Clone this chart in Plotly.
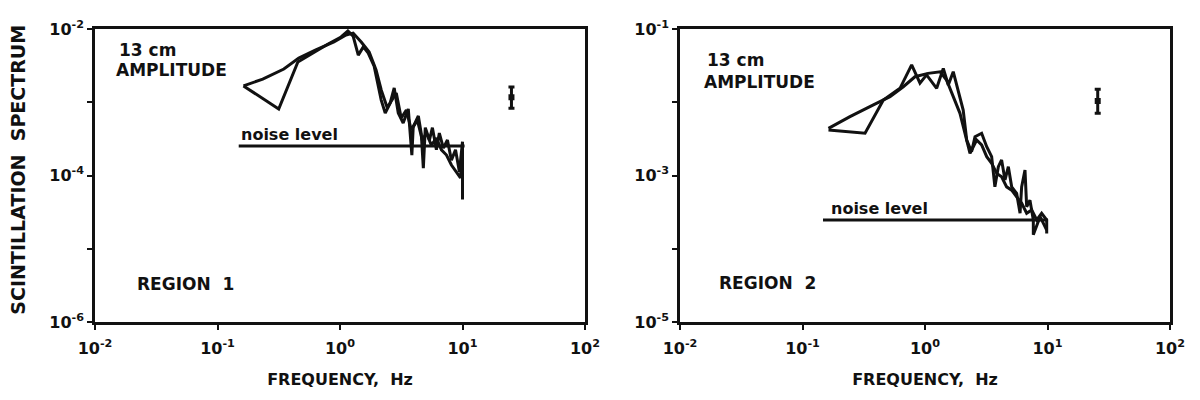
import math
import plotly.graph_objects as go

# ---------------- data ----------------
# Region 1, two overlaid spectra
l_a_freq = [0.163, 0.316, 0.453, 0.578, 0.80, 1.02, 1.16, 1.28, 1.41, 1.55, 1.70, 1.90,
            2.17, 2.34, 2.57, 2.77, 2.99, 3.28, 3.61, 3.86, 3.96, 4.36, 4.61, 4.79, 4.97,
            5.37, 5.68, 6.12, 6.47, 6.98, 7.53, 8.12, 8.77, 9.44, 10.0, 10.0]
l_a_spec = [1.67e-3, 8.1e-4, 3.55e-3, 4.56e-3, 6.24e-3, 7.78e-3, 9.4e-3, 8.0e-3, 4.4e-3,
            5.7e-3, 4.7e-3, 3.1e-3, 1.07e-3, 7.1e-4, 9.8e-4, 1.57e-3, 7.1e-4, 5.2e-4,
            8.1e-4, 1.9e-4, 4.6e-4, 6.5e-4, 3.7e-4, 1.26e-4, 4.5e-4, 3.05e-4, 4.5e-4,
            2.24e-4, 3.8e-4, 2.37e-4, 3.05e-4, 1.62e-4, 2.24e-4, 1.12e-4, 2.9e-4, 4.7e-5]

l_b_freq = [0.163, 0.234, 0.348, 0.461, 0.635, 0.893, 1.12, 1.28, 1.49, 1.73, 1.97, 2.17,
            2.43, 2.67, 2.88, 3.16, 3.48, 3.82, 4.28, 4.70, 5.07, 5.57, 6.12, 6.73, 7.40,
            8.12, 8.93, 9.63, 10.0]
l_b_spec = [1.67e-3, 2.07e-3, 2.84e-3, 4.0e-3, 5.2e-3, 6.65e-3, 8.3e-3, 8.8e-3, 6.65e-3,
            4.85e-3, 2.75e-3, 1.47e-3, 8.4e-4, 1.07e-3, 1.34e-3, 6.1e-4, 7.8e-4, 4.2e-4,
            5.7e-4, 3.05e-4, 3.8e-4, 2.6e-4, 3.24e-4, 2.24e-4, 1.9e-4, 1.39e-4, 1.12e-4,
            9.3e-5, 2.24e-4]

# Region 2, two overlaid spectra
r_a_freq = [0.163, 0.324, 0.457, 0.625, 0.778, 0.91, 1.03, 1.245, 1.41, 1.55, 1.70, 1.87,
            2.05, 2.19, 2.40, 2.56, 2.90, 3.19, 3.50, 3.72, 3.97, 4.22, 4.50, 4.79, 5.10,
            5.60, 5.97, 6.15, 6.55, 6.76, 7.19, 7.66, 7.66, 8.70, 9.85]
r_a_spec = [4.18e-3, 3.77e-3, 1.07e-2, 1.55e-2, 3.23e-2, 1.82e-2, 2.36e-2, 1.55e-2, 2.9e-2,
            1.72e-2, 2.61e-2, 1.47e-2, 7.8e-3, 3.05e-3, 2.11e-3, 3.39e-3, 3.77e-3, 2.47e-3,
            1.81e-3, 7.0e-4, 1.32e-3, 1.63e-3, 8.7e-4, 1.32e-3, 7.0e-4, 5.7e-4, 3.05e-4,
            7.0e-4, 1.19e-3, 3.75e-4, 4.6e-4, 2.47e-4, 1.55e-4, 2.74e-4, 1.8e-4]

r_b_freq = [0.163, 0.244, 0.379, 0.518, 0.665, 0.828, 1.06, 1.33, 1.50, 1.70, 1.93, 2.12,
            2.33, 2.64, 2.90, 3.19, 3.50, 3.85, 4.22, 4.64, 5.10, 5.60, 6.15, 6.76, 7.43,
            8.17, 8.96, 9.85, 9.85]
r_b_spec = [4.4e-3, 6.35e-3, 9.2e-3, 1.19e-2, 1.63e-2, 2.23e-2, 2.48e-2, 2.61e-2, 2.01e-2,
            1.19e-2, 7.06e-3, 3.77e-3, 2.01e-3, 3.05e-3, 2.61e-3, 1.81e-3, 1.47e-3, 1.07e-3,
            9.6e-4, 7.0e-4, 6.3e-4, 5.1e-4, 4.2e-4, 3.05e-4, 3.38e-4, 2.47e-4, 3.05e-4,
            2.47e-4, 1.62e-4]

# noise levels
noise_l_freq = [0.149, 10.4]
noise_l_spec = [2.53e-4, 2.53e-4]
noise_r_freq = [0.147, 10.1]
noise_r_spec = [2.47e-4, 2.47e-4]

# error bars
err_l_freq, err_l_spec, err_l_up, err_l_dn = [25.1], [1.17e-3], [0.45e-3], [0.34e-3]
err_r_freq, err_r_spec, err_r_up, err_r_dn = [25.7], [1.04e-2], [0.47e-2], [0.33e-2]

# axis ticks
x_tickvals = [0.01, 0.1, 1, 10, 100]
x_ticktext = ["10<sup>-2</sup>", "10<sup>-1</sup>", "10<sup>0</sup>", "10<sup>1</sup>", "10<sup>2</sup>"]
yl_tickvals = [1e-6, 1e-5, 1e-4, 1e-3, 1e-2]
yl_ticktext = ["10<sup>-6</sup>", "", "10<sup>-4</sup>", "", "10<sup>-2</sup>"]
yr_tickvals = [1e-5, 1e-4, 1e-3, 1e-2, 1e-1]
yr_ticktext = ["10<sup>-5</sup>", "", "10<sup>-3</sup>", "", "10<sup>-1</sup>"]

# ---------------- figure ----------------
FONT = "DejaVu Sans"
BLACK = "#111111"
LW = 3

fig = go.Figure()

def add_line(x, y, xa, ya, width=LW):
    fig.add_trace(go.Scatter(x=x, y=y, xaxis=xa, yaxis=ya, mode="lines",
                             line=dict(color=BLACK, width=width), showlegend=False,
                             hoverinfo="skip"))

add_line(l_a_freq, l_a_spec, "x", "y")
add_line(l_b_freq, l_b_spec, "x", "y")
add_line(noise_l_freq, noise_l_spec, "x", "y", 3)
add_line(r_a_freq, r_a_spec, "x2", "y2")
add_line(r_b_freq, r_b_spec, "x2", "y2")
add_line(noise_r_freq, noise_r_spec, "x2", "y2", 3)

for fx, fy, up, dn, xa, ya in [(err_l_freq, err_l_spec, err_l_up, err_l_dn, "x", "y"),
                               (err_r_freq, err_r_spec, err_r_up, err_r_dn, "x2", "y2")]:
    fig.add_trace(go.Scatter(x=fx, y=fy, xaxis=xa, yaxis=ya, mode="markers",
                             marker=dict(color=BLACK, size=6, symbol="square"),
                             error_y=dict(type="data", array=up, arrayminus=dn, symmetric=False,
                                          color=BLACK, thickness=3, width=3),
                             showlegend=False, hoverinfo="skip"))

tickfont = dict(family=FONT, size=16, color=BLACK, weight="bold")
common_x = dict(type="log", range=[-2, 2], tickvals=x_tickvals, ticktext=x_ticktext,
                showline=True, linewidth=2.5, linecolor=BLACK, mirror=True,
                ticks="outside", ticklen=5, tickwidth=2, tickcolor=BLACK, ticklabelstandoff=5,
                showgrid=False, zeroline=False, tickfont=tickfont, automargin=False,
                title=dict(text="FREQUENCY,  Hz", standoff=17,
                           font=dict(family=FONT, size=16, color=BLACK, weight="bold")))
common_y = dict(type="log", showline=True, linewidth=2.5, linecolor=BLACK, mirror=True,
                ticks="outside", ticklen=5, tickwidth=2, tickcolor=BLACK, automargin=False,
                showgrid=False, zeroline=False, tickfont=tickfont, domain=[0, 1])

# page has an 8px body margin, so figure coords = viewport coords - 8
L0, L1 = 87 / 1200, 577 / 1200
R0, R1 = 672 / 1200, 1162 / 1200

inner = dict(type="log", showticklabels=False, ticks="inside", ticklen=5, automargin=False,
             tickwidth=2, tickcolor=BLACK, showgrid=False, zeroline=False, showline=False)

fig.update_layout(
    width=1200, height=400,
    margin=dict(l=0, r=0, t=21, b=86),
    paper_bgcolor="white", plot_bgcolor="white",
    font=dict(family=FONT, color=BLACK),
    xaxis=dict(common_x, domain=[L0, L1], anchor="y"),
    yaxis=dict(common_y, range=[-6, -2], tickvals=yl_tickvals, ticktext=yl_ticktext, anchor="x"),
    xaxis2=dict(common_x, domain=[R0, R1], anchor="y2"),
    yaxis2=dict(common_y, range=[-5, -1], tickvals=yr_tickvals, ticktext=yr_ticktext, anchor="x2"),
    # inner halves of the cross-shaped ticks
    xaxis3=dict(inner, range=[-2, 2], domain=[L0, L1], anchor="y3", overlaying="x", tickvals=x_tickvals),
    yaxis3=dict(inner, range=[-6, -2], domain=[0, 1], anchor="x3", overlaying="y", tickvals=yl_tickvals),
    xaxis4=dict(inner, range=[-2, 2], domain=[R0, R1], anchor="y4", overlaying="x2", tickvals=x_tickvals),
    yaxis4=dict(inner, range=[-5, -1], domain=[0, 1], anchor="x4", overlaying="y2", tickvals=yr_tickvals),
)

lab = dict(family=FONT, size=17, color=BLACK, weight="bold")
ann = [
    dict(text="13 cm", xref="x domain", yref="y domain", x=0.045, y=0.930, xanchor="left", yanchor="middle", font=lab, showarrow=False),
    dict(text="AMPLITUDE", xref="x domain", yref="y domain", x=0.038, y=0.860, xanchor="left", yanchor="middle", font=lab, showarrow=False),
    dict(text="REGION  1", xref="x domain", yref="y domain", x=0.082, y=0.130, xanchor="left", yanchor="middle", font=lab, showarrow=False),
    dict(text="13 cm", xref="x2 domain", yref="y2 domain", x=0.051, y=0.894, xanchor="left", yanchor="middle", font=lab, showarrow=False),
    dict(text="AMPLITUDE", xref="x2 domain", yref="y2 domain", x=0.045, y=0.819, xanchor="left", yanchor="middle", font=lab, showarrow=False),
    dict(text="REGION  2", xref="x2 domain", yref="y2 domain", x=0.076, y=0.133, xanchor="left", yanchor="middle", font=lab, showarrow=False),
    dict(text="noise level", xref="x", yref="y", x=math.log10(noise_l_freq[0]), y=math.log10(noise_l_spec[0]),
         xanchor="left", yanchor="bottom", yshift=0, font=dict(family=FONT, size=16, color=BLACK, weight="bold"), showarrow=False),
    dict(text="noise level", xref="x2", yref="y2", x=math.log10(noise_r_freq[0]) + 0.05, y=math.log10(noise_r_spec[0]),
         xanchor="left", yanchor="bottom", yshift=0, font=dict(family=FONT, size=16, color=BLACK, weight="bold"), showarrow=False),
    dict(text="SCINTILLATION  SPECTRUM", xref="paper", yref="paper", x=10 / 1200, y=0.52, textangle=-90,
         xanchor="center", yanchor="middle", font=dict(family=FONT, size=19, color=BLACK, weight="bold"), showarrow=False),
]
fig.update_layout(annotations=ann)

fig.write_html("out.html")
